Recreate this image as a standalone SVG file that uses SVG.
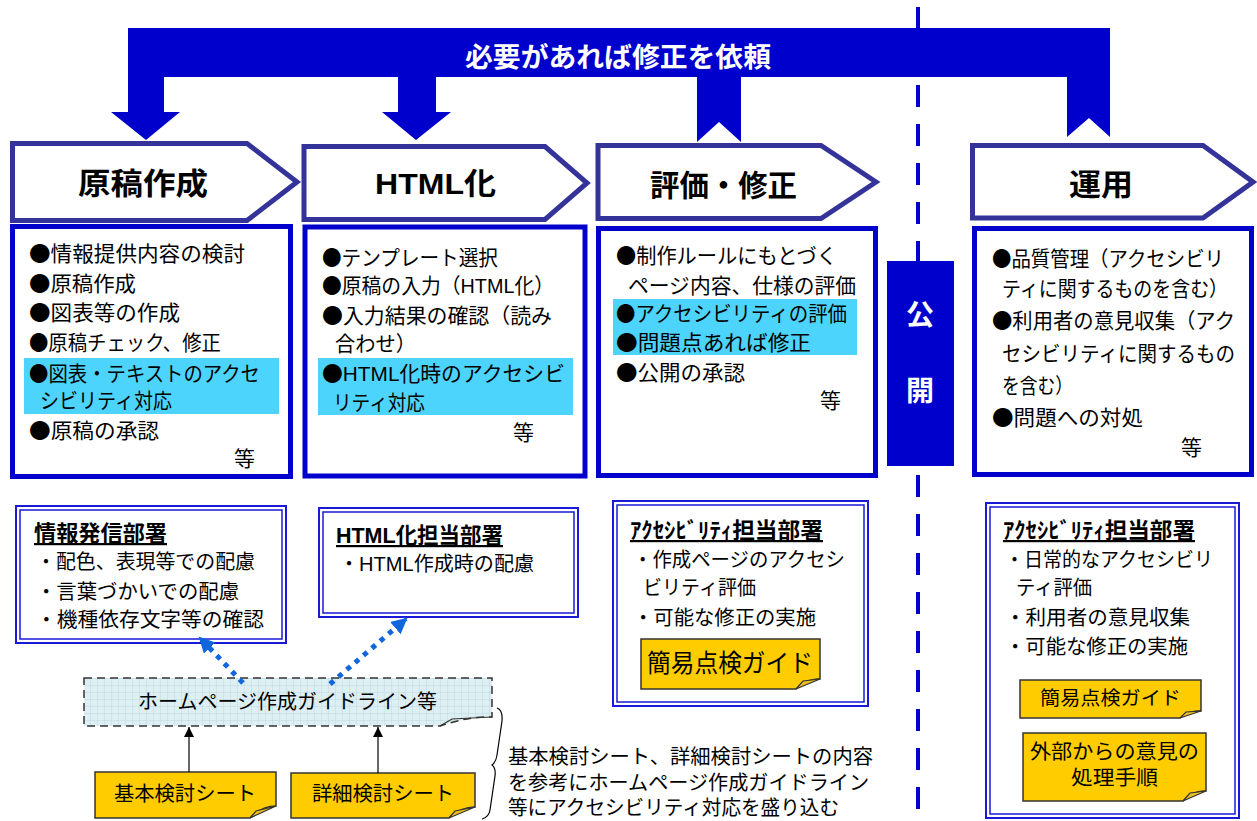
<svg xmlns="http://www.w3.org/2000/svg" width="1257" height="821" viewBox="0 0 1257 821">
<style>
text{font-family:"Liberation Sans","Noto Sans CJK JP",sans-serif;fill:#000}
.u{font-family:"Noto Sans CJK JP",sans-serif}
.t{font-size:21px}
.s{font-size:20px}
.h{font-size:30px;font-weight:bold}
.b{font-size:22px;font-weight:bold;text-decoration:underline}
.w{fill:#fff;font-weight:bold}
.chev{fill:#fff;stroke:#333399;stroke-width:5}
.box{fill:#fff;stroke:#0000CC;stroke-width:5}
.hl{fill:#4DD4FC}
.d1{fill:#fff;stroke:#1a1ad6;stroke-width:2}
.d2{fill:none;stroke:#1a1ad6;stroke-width:1.5}
.sheet{fill:#FFCC00;stroke:#333;stroke-width:1.5}
.fold{fill:#E8BE20;stroke:#333;stroke-width:1.2}
</style>
<defs>
<pattern id="grid" width="7" height="7" patternUnits="userSpaceOnUse">
<rect width="7" height="7" fill="#DDEFF2"/>
<path d="M7,0V7M0,7H7" stroke="#B5D6DC" stroke-width="0.8"/>
</pattern>
<marker id="bh" markerUnits="userSpaceOnUse" markerWidth="18" markerHeight="18" refX="14" refY="8" orient="auto">
<path d="M0,0L16,8L0,16Z" fill="#1166DD"/>
</marker>
<marker id="ah" markerUnits="userSpaceOnUse" markerWidth="12" markerHeight="12" refX="10" refY="5" orient="auto">
<path d="M0,0L10,5L0,10Z" fill="#000"/>
</marker>
</defs>

<g id="divider">
<line x1="918" y1="7" x2="918" y2="821" stroke="#0000CC" stroke-width="4" stroke-dasharray="22 17"/>
</g>

<g id="feedback">
<path d="M128,28H1110V137L1089,118L1067,137V77H741V142L719,122L697,142V77H436V112H451L416,140L382,112H398V77H164V112H180L146,140L111,112H128Z" fill="#0000CC"/>
<text class="w" x="465" y="67" font-size="27" textLength="306" lengthAdjust="spacingAndGlyphs">必要があれば修正を依頼</text>
</g>

<g id="stage1">
<path class="chev" d="M12.5,143.5H247L297,182L247,220.5H12.5Z"/>
<text class="h" x="78" y="194" textLength="130" lengthAdjust="spacingAndGlyphs">原稿作成</text>
</g>
<g id="stage2">
<path class="chev" d="M304,146.5H545L587,183L545,219.5H304Z"/>
<text class="h" x="375" y="194" textLength="121" lengthAdjust="spacingAndGlyphs">HTML化</text>
</g>
<g id="stage3">
<path class="chev" d="M598,145.5H821L876,182L821,218.5H598Z"/>
<text class="h" x="650" y="196" textLength="147" lengthAdjust="spacingAndGlyphs">評価<tspan class="u">・</tspan>修正</text>
</g>
<g id="stage4">
<path class="chev" d="M972.5,145.5H1203L1253,182L1203,218H972.5Z"/>
<text class="h" x="1069" y="195" textLength="64" lengthAdjust="spacingAndGlyphs">運用</text>
</g>

<g id="content1">
<rect class="box" x="12.5" y="226.5" width="278" height="250"/>
<rect class="hl" x="24" y="358" width="255" height="56"/>
<text class="t" x="29" y="261" textLength="216" lengthAdjust="spacingAndGlyphs"><tspan class="u">●</tspan>情報提供内容の検討</text>
<text class="t" x="29" y="291" textLength="107" lengthAdjust="spacingAndGlyphs"><tspan class="u">●</tspan>原稿作成</text>
<text class="t" x="29" y="320" textLength="151" lengthAdjust="spacingAndGlyphs"><tspan class="u">●</tspan>図表等の作成</text>
<text class="t" x="29" y="350" textLength="192" lengthAdjust="spacingAndGlyphs"><tspan class="u">●</tspan>原稿チェック、修正</text>
<text class="t" x="29" y="381" textLength="231" lengthAdjust="spacingAndGlyphs"><tspan class="u">●</tspan>図表・テキストのアクセ</text>
<text class="t" x="40" y="408" textLength="132" lengthAdjust="spacingAndGlyphs">シビリティ対応</text>
<text class="t" x="29" y="438" textLength="130" lengthAdjust="spacingAndGlyphs"><tspan class="u">●</tspan>原稿の承認</text>
<text class="t" x="234" y="466">等</text>
</g>

<g id="content2">
<rect class="box" x="305" y="227" width="280" height="249"/>
<rect class="hl" x="318" y="358" width="255" height="57"/>
<text class="t" x="322" y="265" textLength="176" lengthAdjust="spacingAndGlyphs"><tspan class="u">●</tspan>テンプレート選択</text>
<text class="t" x="322" y="293" textLength="232" lengthAdjust="spacingAndGlyphs"><tspan class="u">●</tspan>原稿の入力（HTML化）</text>
<text class="t" x="322" y="323" textLength="230" lengthAdjust="spacingAndGlyphs"><tspan class="u">●</tspan>入力結果の確認（読み</text>
<text class="t" x="335" y="351" textLength="81" lengthAdjust="spacingAndGlyphs">合わせ）</text>
<text class="t" x="322" y="381" textLength="243" lengthAdjust="spacingAndGlyphs"><tspan class="u">●</tspan>HTML化時のアクセシビ</text>
<text class="t" x="333" y="410" textLength="92" lengthAdjust="spacingAndGlyphs">リティ対応</text>
<text class="t" x="513" y="440">等</text>
</g>

<g id="content3">
<rect class="box" x="598.5" y="228.5" width="277" height="247"/>
<rect class="hl" x="613" y="299" width="244" height="56"/>
<text class="t" x="616" y="263" textLength="221" lengthAdjust="spacingAndGlyphs"><tspan class="u">●</tspan>制作ルールにもとづく</text>
<text class="t" x="628" y="293" textLength="228" lengthAdjust="spacingAndGlyphs">ページ内容、仕様の評価</text>
<text class="t" x="616" y="321" textLength="231" lengthAdjust="spacingAndGlyphs"><tspan class="u">●</tspan>アクセシビリティの評価</text>
<text class="t" x="616" y="350" textLength="195" lengthAdjust="spacingAndGlyphs"><tspan class="u">●</tspan>問題点あれば修正</text>
<text class="t" x="616" y="380" textLength="129" lengthAdjust="spacingAndGlyphs"><tspan class="u">●</tspan>公開の承認</text>
<text class="t" x="820" y="408">等</text>
</g>

<g id="publish">
<rect x="887" y="261" width="67" height="205" fill="#0000CC"/>
<text class="w" x="920" y="325" font-size="28" text-anchor="middle">公</text>
<text class="w" x="920" y="401" font-size="28" text-anchor="middle">開</text>
</g>

<g id="content4">
<rect class="box" x="974.5" y="228.5" width="277" height="246"/>
<text class="t" x="992" y="266" textLength="232" lengthAdjust="spacingAndGlyphs"><tspan class="u">●</tspan>品質管理（アクセシビリ</text>
<text class="t" x="1002" y="296" textLength="226" lengthAdjust="spacingAndGlyphs">ティに関するものを含む）</text>
<text class="t" x="992" y="328" textLength="243" lengthAdjust="spacingAndGlyphs"><tspan class="u">●</tspan>利用者の意見収集（アク</text>
<text class="t" x="1002" y="361" textLength="233" lengthAdjust="spacingAndGlyphs">セシビリティに関するもの</text>
<text class="t" x="1002" y="393" textLength="71" lengthAdjust="spacingAndGlyphs">を含む）</text>
<text class="t" x="992" y="425" textLength="151" lengthAdjust="spacingAndGlyphs"><tspan class="u">●</tspan>問題への対処</text>
<text class="t" x="1181" y="455">等</text>
</g>

<g id="dept1">
<rect class="d1" x="16" y="506" width="270" height="137"/>
<rect class="d2" x="20" y="510" width="262" height="129"/>
<text class="b" x="34" y="541" textLength="133" lengthAdjust="spacingAndGlyphs">情報発信部署</text>
<text class="s" x="36" y="569" textLength="219" lengthAdjust="spacingAndGlyphs">・配色、表現等での配慮</text>
<text class="s" x="36" y="599" textLength="203" lengthAdjust="spacingAndGlyphs">・言葉づかいでの配慮</text>
<text class="s" x="36" y="627" textLength="228" lengthAdjust="spacingAndGlyphs">・機種依存文字等の確認</text>
</g>

<g id="dept2">
<rect class="d1" x="319" y="508" width="259" height="109"/>
<rect class="d2" x="323" y="512" width="251" height="101"/>
<text class="b" x="336" y="543" textLength="167" lengthAdjust="spacingAndGlyphs">HTML化担当部署</text>
<text class="s" x="339" y="571" textLength="195" lengthAdjust="spacingAndGlyphs">・HTML作成時の配慮</text>
</g>

<g id="dept3">
<rect class="d1" x="613" y="501" width="255" height="205"/>
<rect class="d2" x="617" y="505" width="247" height="197"/>
<text class="b" x="630" y="538" textLength="193" lengthAdjust="spacingAndGlyphs">ｱｸｾｼﾋﾞﾘﾃｨ担当部署</text>
<text class="s" x="633" y="567" textLength="212" lengthAdjust="spacingAndGlyphs">・作成ページのアクセシ</text>
<text class="s" x="643" y="595" textLength="113" lengthAdjust="spacingAndGlyphs">ビリティ評価</text>
<text class="s" x="633" y="625" textLength="183" lengthAdjust="spacingAndGlyphs">・可能な修正の実施</text>
<g id="guide3">
<path class="sheet" d="M641,639H820V679Q808,678 796,689H641Z"/>
<path class="fold" d="M796,689L803,681L820,679Z"/>
<text x="647" y="672" font-size="25" textLength="166" lengthAdjust="spacingAndGlyphs">簡易点検ガイド</text>
</g>
</g>

<g id="dept4">
<rect class="d1" x="986" y="503" width="253" height="315"/>
<rect class="d2" x="990" y="507" width="245" height="307"/>
<text class="b" x="1003" y="538" textLength="192" lengthAdjust="spacingAndGlyphs">ｱｸｾｼﾋﾞﾘﾃｨ担当部署</text>
<text class="s" x="1005" y="567" textLength="208" lengthAdjust="spacingAndGlyphs">・日常的なアクセシビリ</text>
<text class="s" x="1016" y="595" textLength="76" lengthAdjust="spacingAndGlyphs">ティ評価</text>
<text class="s" x="1005" y="625" textLength="185" lengthAdjust="spacingAndGlyphs">・利用者の意見収集</text>
<text class="s" x="1005" y="654" textLength="183" lengthAdjust="spacingAndGlyphs">・可能な修正の実施</text>
<g id="guide4">
<path class="sheet" d="M1020,680H1201V711Q1190,710 1180,718H1020Z"/>
<path class="fold" d="M1180,718L1186,712L1201,711Z"/>
<text x="1040" y="705" font-size="19" textLength="141" lengthAdjust="spacingAndGlyphs">簡易点検ガイド</text>
</g>
<g id="procedure">
<path class="sheet" d="M1023,733H1206V791Q1194,790 1183,801H1023Z"/>
<path class="fold" d="M1183,801L1190,793L1206,791Z"/>
<text x="1030" y="759" font-size="20" textLength="169" lengthAdjust="spacingAndGlyphs">外部からの意見の</text>
<text x="1071" y="785" font-size="20" textLength="87" lengthAdjust="spacingAndGlyphs">処理手順</text>
</g>
</g>

<g id="guideline">
<path d="M84,678H492V717Q470,716 440,726H84Z" fill="url(#grid)" stroke="#333" stroke-width="1.5" stroke-dasharray="8 5"/>
<path d="M440,726L452,719L492,717" fill="none" stroke="#333" stroke-width="1.2"/>
<text class="s" x="138" y="709" textLength="299" lengthAdjust="spacingAndGlyphs">ホームページ作成ガイドライン等</text>
</g>

<g id="sheet1">
<path class="sheet" d="M95,772H276V806Q262,806 250,818H95Z"/>
<path class="fold" d="M250,818L256,811L276,806Z"/>
<text class="s" x="114" y="801" textLength="142" lengthAdjust="spacingAndGlyphs">基本検討シート</text>
</g>
<g id="sheet2">
<path class="sheet" d="M291,773H475V807Q461,807 449,818H291Z"/>
<path class="fold" d="M449,818L455,811L475,807Z"/>
<text class="s" x="312" y="801" textLength="142" lengthAdjust="spacingAndGlyphs">詳細検討シート</text>
</g>

<g id="note">
<path d="M497,708Q503,710 502,721L497,755Q496,762 492,765Q496,768 495,776L490,810Q489,817 482,819" fill="none" stroke="#000" stroke-width="1.2"/>
<text class="s" x="508" y="764" textLength="365" lengthAdjust="spacingAndGlyphs">基本検討シート、詳細検討シートの内容</text>
<text class="s" x="508" y="790" textLength="361" lengthAdjust="spacingAndGlyphs">を参考にホームページ作成ガイドライン</text>
<text class="s" x="508" y="815" textLength="331" lengthAdjust="spacingAndGlyphs">等にアクセシビリティ対応を盛り込む</text>
</g>

<g id="connectors">
<line x1="243" y1="683" x2="200" y2="638" stroke="#1166DD" stroke-width="5" stroke-dasharray="5 6" marker-end="url(#bh)"/>
<line x1="330" y1="684" x2="406" y2="619" stroke="#1166DD" stroke-width="5" stroke-dasharray="5 6" marker-end="url(#bh)"/>
<line x1="189" y1="772" x2="189" y2="727" stroke="#000" stroke-width="1.2" marker-end="url(#ah)"/>
<line x1="378" y1="773" x2="378" y2="727" stroke="#000" stroke-width="1.2" marker-end="url(#ah)"/>
</g>
</svg>
